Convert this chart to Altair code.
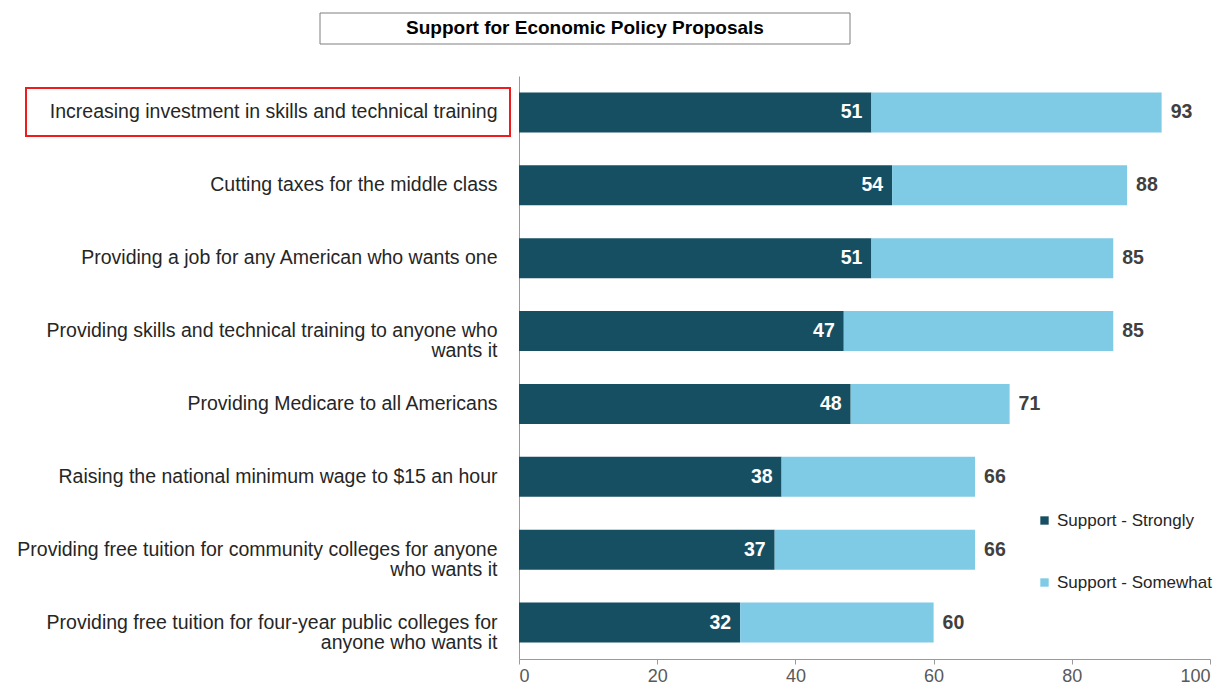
import altair as alt
import pandas as pd

categories = [
    "Increasing investment in skills and technical training",
    "Cutting taxes for the middle class",
    "Providing a job for any American who wants one",
    "Providing skills and technical training to anyone who\nwants it",
    "Providing Medicare to all Americans",
    "Raising the national minimum wage to $15 an hour",
    "Providing free tuition for community colleges for anyone\nwho wants it",
    "Providing free tuition for four-year public colleges for\nanyone who wants it",
]
strongly = [51, 54, 51, 47, 48, 38, 37, 32]
somewhat = [42, 34, 35, 39, 23, 28, 29, 28]
totals = [93, 88, 85, 85, 71, 66, 66, 60]
series = ["Support - Strongly", "Support - Somewhat"]
title_text = "Support for Economic Policy Proposals"

rows = []
for i, c in enumerate(categories):
    rows.append({"cat": c, "series": series[0], "value": strongly[i], "ord": 0})
    rows.append({"cat": c, "series": series[1], "value": somewhat[i], "ord": 1})
long_df = pd.DataFrame(rows)

lab_df = pd.DataFrame({
    "cat": categories,
    "strong": strongly,
    "end": [s + m for s, m in zip(strongly, somewhat)],
    "total": totals,
})

FONT = "Liberation Sans"

yenc = alt.Y(
    "cat:N",
    sort=categories,
    title=None,
    scale=alt.Scale(paddingInner=0.45, paddingOuter=0.225),
    axis=alt.Axis(
        labelExpr="split(datum.label, '\\n')",
        labelAlign="right",
        labelPadding=22,
        labelFontSize=19.5,
        labelLineHeight=20,
        labelColor="#262626",
        labelFont=FONT,
        ticks=False,
        domainColor="#9a9a9a",
        labelLimit=700,
    ),
)

bars = alt.Chart(long_df).mark_bar().encode(
    x=alt.X(
        "sum(value):Q",
        stack="zero",
        title=None,
        scale=alt.Scale(domain=[0, 100], nice=False),
        axis=alt.Axis(
            values=[0, 20, 40, 60, 80, 100],
            grid=False,
            domainColor="#9a9a9a",
            tickColor="#9a9a9a",
            tickSize=5,
            labelFontSize=18,
            labelColor="#595959",
            labelFont=FONT,
            labelPadding=3,
        ),
    ),
    y=yenc,
    color=alt.Color(
        "series:N",
        scale=alt.Scale(domain=series, range=["#174f62", "#7fcae5"]),
        legend=alt.Legend(
            title=None,
            orient="none",
            legendX=517,
            legendY=436,
            symbolType="square",
            symbolSize=70,
            labelFontSize=17,
            labelFont=FONT,
            labelColor="#262626",
            rowPadding=44,
            labelOffset=4,
            labelLimit=300,
        ),
    ),
    order=alt.Order("ord:Q"),
)

inner = alt.Chart(lab_df).mark_text(
    align="right", dx=-9, fontSize=19.5, fontWeight="bold", color="white", font=FONT
).encode(x="strong:Q", y=alt.Y("cat:N", sort=categories), text="strong:Q")

outer = alt.Chart(lab_df).mark_text(
    align="left", dx=9, fontSize=19.5, fontWeight="bold", color="#404040", font=FONT
).encode(x="end:Q", y=alt.Y("cat:N", sort=categories), text="total:Q")

title_box = alt.Chart(pd.DataFrame({"t": [title_text]})).mark_rect(
    fill="white", stroke="#7f7f7f", strokeWidth=1, clip=False
).encode(x=alt.value(-199), x2=alt.value(331), y=alt.value(-63), y2=alt.value(-32))

title_mark = alt.Chart(pd.DataFrame({"t": [title_text]})).mark_text(
    fontSize=19, fontWeight="bold", color="#000000", font=FONT, align="center", baseline="middle"
).encode(x=alt.value(66), y=alt.value(-48), text="t:N")

highlight = alt.Chart(pd.DataFrame({"t": [categories[0]]})).mark_rect(
    fill=None, filled=False, stroke="#ee1c1c", strokeWidth=2, clip=False
).encode(x=alt.value(-493), x2=alt.value(-9), y=alt.value(12), y2=alt.value(60))

chart = alt.layer(bars, inner, outer, title_box, title_mark, highlight).properties(
    width=691,
    height=583,
    background="white",
    autosize=alt.AutoSizeParams(type="none"),
    padding={"left": 511, "top": 68, "right": 12, "bottom": 26},
).configure_view(strokeWidth=0, stroke="transparent")

chart.save("out.html", embed_options={"renderer": "svg", "actions": False})
